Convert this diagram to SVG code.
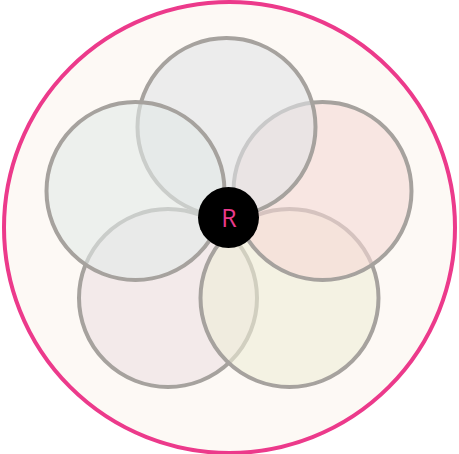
<svg xmlns="http://www.w3.org/2000/svg" width="459" height="454" viewBox="0 0 459 454">
  <style>
    .petal { stroke: #a6a29e; stroke-width: 4; fill-opacity: 0.6; }
    .label { font-family: "Open Sans", "Noto Sans", sans-serif; font-size: 25px; fill: #ea3a8c; text-anchor: middle; }
  </style>
  <g id="outer">
    <circle cx="229.5" cy="227.5" r="225.5" fill="#fdf9f5" stroke="#ec3a8b" stroke-width="4"/>
  </g>
  <g id="petal-bottom-left"><circle class="petal" cx="168" cy="298" r="89" fill="#ece0e3"/></g>
  <g id="petal-bottom-right"><circle class="petal" cx="289.5" cy="298" r="89" fill="#eeecd7"/></g>
  <g id="petal-right"><circle class="petal" cx="322.5" cy="191" r="89" fill="#f5d9d5"/></g>
  <g id="petal-top"><circle class="petal" cx="226.5" cy="127" r="89" fill="#e1e3e6"/></g>
  <g id="petal-left"><circle class="petal" cx="135.5" cy="191" r="89" fill="#e2eae8"/></g>
  <g id="connectors"></g>
  <g id="root">
    <circle cx="228.5" cy="217.5" r="30.5" fill="#000000"/>
    <text class="label" x="229" y="227">R</text>
  </g>
</svg>
